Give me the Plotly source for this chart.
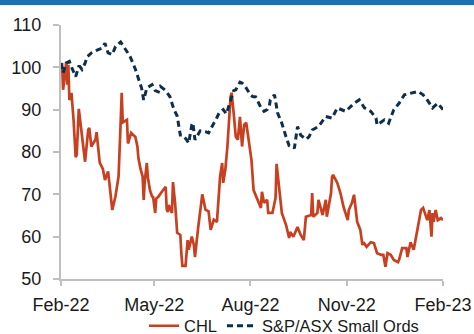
import pandas as pd
import plotly.graph_objects as go

start = pd.Timestamp("2022-02-01")

# CHL: days since 2022-02-01 and rebased price
chl_days = [0, 1, 2, 4, 5, 6, 7, 8, 9, 10, 12, 14, 15, 17, 19, 22, 23, 26, 27, 29, 33, 34, 36, 37,
            40, 42, 45, 47, 49, 52, 55, 57, 58, 59, 63, 64, 67, 69, 71, 73, 74, 76, 78, 79, 80, 82,
            83, 85, 87, 88, 90, 91, 93, 96, 100, 101, 102, 103, 104, 106, 107, 109, 111, 114, 115,
            116, 119, 121, 122, 124, 125, 127, 128, 131, 135, 138, 141, 143, 146, 149, 150, 152,
            154, 155, 157, 159, 162, 163, 165, 167, 169, 171, 173, 175, 177, 179, 182, 184, 187,
            189, 191, 192, 194, 197, 198, 202, 205, 206, 208, 210, 211, 215, 218, 219, 222, 226,
            229, 232, 234, 239, 240, 241, 245, 246, 250, 253, 254, 258, 259, 260, 264, 267, 270,
            274, 275, 278, 280, 283, 286, 288, 289, 292, 296, 299, 302, 306, 308, 310, 312, 315,
            318, 322, 323, 326, 330, 331, 334, 337, 341, 344, 346, 347, 350, 352, 354, 355, 356,
            358, 360, 363, 365]
chl_vals = [100, 101, 94.7, 98.7, 101.3, 95.9, 100.6, 92.3, 92.8, 94.0, 87.6, 78.8, 79.3, 90.2,
            86.0, 79.8, 77.7, 85.2, 85.7, 81.3, 83.0, 84.7, 80.0, 77.5, 76.0, 73.4, 75.4, 70.0,
            66.3, 69.5, 74.2, 87.0, 94.0, 87.0, 87.6, 82.0, 84.5, 84.0, 83.6, 81.3, 78.5, 76.0,
            74.2, 68.7, 73.0, 77.4, 74.0, 71.0, 69.5, 69.4, 65.6, 69.0, 69.4, 70.5, 71.8, 66.5,
            65.8, 67.5, 67.0, 65.6, 72.9, 68.0, 60.9, 60.4, 56.0, 53.1, 53.1, 59.2, 56.9, 59.0,
            60.0, 58.0, 55.2, 62.0, 70.0, 66.4, 66.0, 61.6, 64.0, 63.5, 68.0, 74.2, 77.4, 72.7,
            75.8, 81.3, 93.0, 94.0, 89.2, 83.6, 82.9, 88.3, 81.3, 86.4, 86.9, 83.6, 78.1, 71.0,
            69.1, 68.0, 66.8, 70.6, 68.0, 68.7, 65.6, 65.6, 69.1, 77.2, 72.7, 68.0, 65.6, 62.8,
            59.7, 61.1, 60.0, 62.3, 60.4, 59.2, 64.7, 65.1, 70.3, 64.7, 65.6, 68.7, 65.1, 68.7,
            64.7, 70.3, 74.1, 74.6, 72.7, 70.3, 67.0, 63.9, 66.3, 68.0, 69.9, 63.5, 61.6, 58.0,
            58.7, 57.6, 58.7, 58.5, 56.1, 55.7, 55.7, 52.9, 56.1, 55.7, 54.5, 54.0, 54.5, 57.3,
            57.3, 55.2, 58.7, 56.9, 62.3, 66.3, 66.8, 66.0, 63.9, 66.3, 60.0, 65.6, 63.5, 66.3,
            63.9, 64.4, 63.9]

# S&P/ASX Small Ords: days since 2022-02-01 and rebased index
sp_days = [0, 2, 5, 8, 11, 14, 17, 18, 20, 23, 25, 29, 34, 39, 42, 45, 49, 52, 57, 60, 63, 66,
           71, 74, 77, 79, 82, 87, 90, 93, 95, 100, 104, 108, 111, 114, 116, 120, 122, 125, 126,
           128, 133, 138, 141, 146, 148, 151, 155, 158, 162, 165, 167, 171, 173, 176, 178, 181,
           183, 186, 191, 194, 197, 199, 200, 204, 207, 211, 215, 218, 221, 223, 226, 229, 234,
           237, 240, 246, 253, 259, 264, 272, 280, 285, 290, 296, 301, 302, 309, 313, 318, 323,
           328, 334, 341, 346, 350, 355, 360, 365]
sp_vals = [101, 98.7, 101, 101.4, 99.5, 97.8, 100.2, 100.2, 99.5, 101, 102.5, 103.4, 104, 104.5,
           105.7, 103.4, 103, 104.9, 106, 104.9, 103.6, 102.6, 99.6, 97.4, 95.1, 92.3, 95.1, 95.9,
           94.5, 94.2, 95.5, 94.5, 93.1, 90, 88.5, 84, 84, 82.9, 82.1, 86.4, 86.9, 82.9, 85, 84.8,
           84.5, 86.8, 87.6, 89.2, 90, 89, 92.5, 94.5, 94.7, 96.5, 96.3, 95.5, 94.7, 93.5, 93.1,
           93, 90.5, 89.6, 90, 90.8, 92.3, 93.5, 89.2, 86.8, 83.6, 81.5, 81.3, 80.9, 86, 84, 83,
           83.6, 85.2, 86, 88.4, 88, 90.4, 89.6, 91.5, 92.3, 90.4, 89.6, 88, 86.4, 87.6, 86.8,
           90, 91.5, 93.5, 93.9, 94.3, 93.5, 92.3, 90.4, 91.5, 90]

tick_dates = ["2022-02-01", "2022-05-01", "2022-08-01", "2022-11-01", "2023-02-01"]
tick_labels = ["Feb-22", "May-22", "Aug-22", "Nov-22", "Feb-23"]
y_ticks = [50, 60, 70, 80, 90, 100, 110]

chl_x = start + pd.to_timedelta(chl_days, unit="D")
sp_x = start + pd.to_timedelta(sp_days, unit="D")

RED = "#C8401F"
NAVY = "#0E2E4C"
GRAY = "#BFBFBF"

fig = go.Figure()
fig.add_trace(go.Scatter(x=chl_x, y=chl_vals, mode="lines", name="CHL",
                         line=dict(color=RED, width=2.7)))
fig.add_trace(go.Scatter(x=sp_x, y=sp_vals, mode="lines", name="S&P/ASX Small Ords",
                         line=dict(color=NAVY, width=3, dash="6px,4px")))

fig.update_layout(
    width=474, height=334,
    margin=dict(l=61, r=31, t=25, b=55, autoexpand=False),
    paper_bgcolor="white", plot_bgcolor="white",
    font=dict(family="Liberation Sans, Arial, sans-serif", size=18, color="#1a1a1a"),
    showlegend=True,
    legend=dict(orientation="h", x=(284 - 61) / 382, xanchor="center", yref="container",
                y=8/334, yanchor="middle",
                font=dict(size=16.5), itemwidth=30, bgcolor="rgba(0,0,0,0)",
                tracegroupgap=0),
    xaxis=dict(type="date", range=["2022-02-01", "2023-02-01"],
               tickvals=tick_dates, ticktext=tick_labels,
               showline=True, linecolor=GRAY, linewidth=2,
               ticks="outside", ticklen=5, tickcolor=GRAY, tickwidth=1.5,
               ticklabelstandoff=3,
               showgrid=False, zeroline=False),
    yaxis=dict(range=[50, 110], tickvals=y_ticks,
               showline=True, linecolor=GRAY, linewidth=2,
               ticks="outside", ticklen=6, tickcolor=GRAY, tickwidth=1.5,
               ticklabelstandoff=8,
               showgrid=False, zeroline=False),
    shapes=[dict(type="rect", xref="paper", yref="paper",
                 x0=-61/382, x1=1+31/382, y0=1+20/254, y1=1+25/254,
                 fillcolor="#1C70B5", line=dict(width=0), layer="above")],
)

fig.write_html("out.html")
